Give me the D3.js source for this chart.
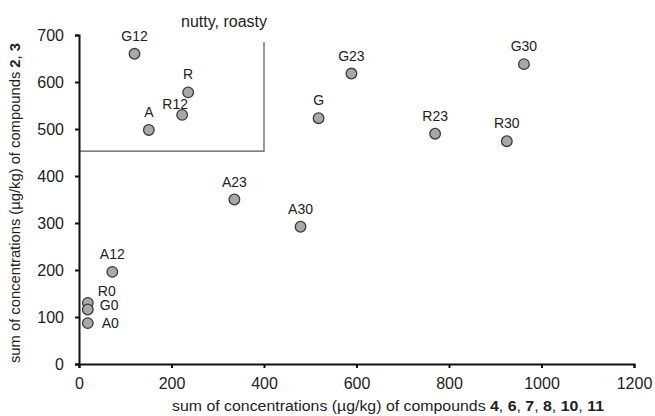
<!DOCTYPE html>
<html>
<head>
<meta charset="utf-8">
<script src="https://cdn.jsdelivr.net/npm/d3@7"></script>
<style>
  body { margin: 0; background: #fff; }
  svg { font-family: "Liberation Sans", Arial, sans-serif; }
</style>
</head>
<body>
<svg id="chart" width="655" height="416"></svg>
<script>
// sample labels and coordinates
const labels = ["G12", "R", "R12", "A", "G", "A23", "G23", "G30", "R23", "R30", "A30", "A12", "R0", "G0", "A0"];
const xValues = [120, 236, 223, 151, 518, 336, 589, 962, 770, 925, 479, 72, 19, 19, 19];
const yValues = [660, 578, 530, 498, 523, 350, 618, 638, 490, 474, 292, 196, 130, 116, 87];
// labels placed to the side rather than above
const sideLabels = ["R0", "G0", "A0"];

const xTicks = [0, 200, 400, 600, 800, 1000, 1200];
const yTicks = [0, 100, 200, 300, 400, 500, 600, 700];

// "nutty, roasty" region corner
const boxX = 400;
const boxYBottom = 453;
const boxYTop = 685;

const points = labels.map((l, i) => ({ label: l, x: xValues[i], y: yValues[i] }));

const svg = d3.select("#chart");
const margin = { top: 35, right: 21, bottom: 52, left: 79 };
const width = +svg.attr("width") - margin.left - margin.right;
const height = +svg.attr("height") - margin.top - margin.bottom;

const x = d3.scaleLinear().domain([0, 1200]).range([0, width]);
const y = d3.scaleLinear().domain([0, 700]).range([height, 0]);

const g = svg.append("g")
  .attr("transform", `translate(${margin.left},${margin.top})`);

// region box
g.append("path")
  .attr("d", `M${x(0)},${y(boxYBottom)}H${x(boxX)}V${y(boxYTop)}`)
  .attr("fill", "none")
  .attr("stroke", "#555")
  .attr("stroke-width", 1.2);

g.append("text")
  .attr("x", x(boxX) - 40)
  .attr("y", y(boxYTop) - 15)
  .attr("text-anchor", "middle")
  .attr("font-size", 16)
  .attr("fill", "#222")
  .text("nutty, roasty");

const xAxis = g.append("g")
  .attr("transform", `translate(0,${height})`)
  .call(d3.axisBottom(x).tickValues(xTicks).tickSize(4).tickPadding(10).tickFormat(d3.format("d")));

const yAxis = g.append("g")
  .call(d3.axisLeft(y).tickValues(yTicks).tickSize(4).tickPadding(11).tickFormat(d3.format("d")));

[xAxis, yAxis].forEach(a => {
  a.select(".domain").attr("stroke", "#111").attr("stroke-width", 2);
  a.selectAll(".tick line").attr("stroke", "#111").attr("stroke-width", 2);
  a.selectAll(".tick text").attr("font-size", 16).attr("fill", "#222")
    .attr("font-family", "'Liberation Sans', Arial, sans-serif");
});

// points
g.selectAll(".pt")
  .data(points)
  .enter()
  .append("circle")
  .attr("class", "pt")
  .attr("cx", d => x(d.x))
  .attr("cy", d => y(d.y))
  .attr("r", 5.3)
  .attr("fill", "#a8a8a8")
  .attr("stroke", "#3a3a3a")
  .attr("stroke-width", 1.3);

const dx = { R12: -7, R0: 10, G0: 12, A0: 14 };
const dy = { R12: -6, R0: -7, G0: 1, A0: 5 };

g.selectAll(".lbl")
  .data(points)
  .enter()
  .append("text")
  .attr("class", "lbl")
  .attr("x", d => x(d.x) + (dx[d.label] || 0))
  .attr("y", d => y(d.y) + (d.label in dy ? dy[d.label] : -13))
  .attr("text-anchor", d => sideLabels.includes(d.label) ? "start" : "middle")
  .attr("font-size", 14)
  .attr("fill", "#222")
  .text(d => d.label);

// axis titles
const xTitle = svg.append("text")
  .attr("x", 388)
  .attr("y", 411)
  .attr("text-anchor", "middle")
  .attr("font-size", 14)
  .attr("textLength", 432)
  .attr("lengthAdjust", "spacingAndGlyphs")
  .attr("fill", "#222");
xTitle.append("tspan").text("sum of concentrations (µg/kg) of compounds ");
["4", "6", "7", "8", "10", "11"].forEach((c, i, arr) => {
  xTitle.append("tspan").attr("font-weight", "bold").text(c);
  if (i < arr.length - 1) xTitle.append("tspan").text(", ");
});

const yTitle = svg.append("text")
  .attr("transform", "translate(20,203) rotate(-90)")
  .attr("text-anchor", "middle")
  .attr("font-size", 14)
  .attr("textLength", 320)
  .attr("lengthAdjust", "spacingAndGlyphs")
  .attr("fill", "#222");
yTitle.append("tspan").text("sum of concentrations (µg/kg) of compounds ");
yTitle.append("tspan").attr("font-weight", "bold").text("2");
yTitle.append("tspan").text(", ");
yTitle.append("tspan").attr("font-weight", "bold").text("3");
</script>
</body>
</html>
